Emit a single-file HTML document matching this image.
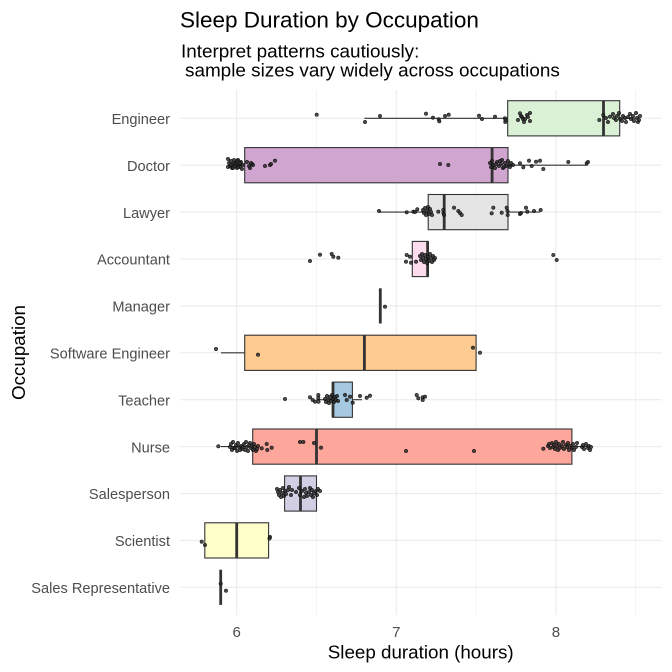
<!DOCTYPE html>
<html><head><meta charset="utf-8"><style>
html,body{margin:0;padding:0;background:#fff;}
svg{display:block;}
text{font-family:"Liberation Sans",Arial,sans-serif;}
</style></head><body>
<svg width="672" height="672" viewBox="0 0 672 672" xmlns="http://www.w3.org/2000/svg">
<rect width="672" height="672" fill="#fff"/>
<!-- grid -->
<g stroke="#ebebeb" stroke-width="0.6">
<line x1="316.5" y1="90" x2="316.5" y2="615"/>
<line x1="476.1" y1="90" x2="476.1" y2="615"/>
<line x1="635.7" y1="90" x2="635.7" y2="615"/>
</g>
<g stroke="#ebebeb" stroke-width="1.1">
<line x1="236.7" y1="90" x2="236.7" y2="615"/>
<line x1="396.3" y1="90" x2="396.3" y2="615"/>
<line x1="555.9" y1="90" x2="555.9" y2="615"/>
<line x1="180" y1="118.3" x2="661.5" y2="118.3"/>
<line x1="180" y1="165.2" x2="661.5" y2="165.2"/>
<line x1="180" y1="212.1" x2="661.5" y2="212.1"/>
<line x1="180" y1="259.0" x2="661.5" y2="259.0"/>
<line x1="180" y1="305.9" x2="661.5" y2="305.9"/>
<line x1="180" y1="352.8" x2="661.5" y2="352.8"/>
<line x1="180" y1="399.7" x2="661.5" y2="399.7"/>
<line x1="180" y1="446.6" x2="661.5" y2="446.6"/>
<line x1="180" y1="493.5" x2="661.5" y2="493.5"/>
<line x1="180" y1="540.4" x2="661.5" y2="540.4"/>
<line x1="180" y1="587.3" x2="661.5" y2="587.3"/>
</g>
<!-- whiskers -->
<g stroke="#333" stroke-width="1.1">
<line x1="364.4" y1="118.3" x2="507.7" y2="118.3"/>
<line x1="619.7" y1="118.3" x2="635.7" y2="118.3"/>
<line x1="236.7" y1="165.2" x2="244.7" y2="165.2"/>
<line x1="508" y1="165.2" x2="587.8" y2="165.2"/>
<line x1="379" y1="212.1" x2="428.2" y2="212.1"/>
<line x1="508" y1="212.1" x2="540" y2="212.1"/>
<line x1="221" y1="352.8" x2="244.7" y2="352.8"/>
<line x1="316.5" y1="399.7" x2="332.5" y2="399.7"/>
<line x1="352.4" y1="399.7" x2="362" y2="399.7"/>
<line x1="220.7" y1="446.6" x2="252.7" y2="446.6"/>
<line x1="571.9" y1="446.6" x2="587.8" y2="446.6"/>
</g>
<!-- boxes -->
<g stroke="#333" stroke-width="1.1">
<rect x="507.7" y="100.7" width="112" height="35.2" fill="#dbf1d6"/>
<rect x="244.7" y="147.6" width="263.3" height="35.2" fill="#d0a6d1"/>
<rect x="428.2" y="194.5" width="79.8" height="35.2" fill="#e4e4e4"/>
<rect x="412.3" y="241.4" width="15.9" height="35.2" fill="#fddced"/>
<rect x="244.7" y="335.2" width="231.4" height="35.2" fill="#fecb91"/>
<rect x="332.5" y="382.1" width="19.9" height="35.2" fill="#a6c8e0"/>
<rect x="252.7" y="429.0" width="319.2" height="35.2" fill="#fca69c"/>
<rect x="284.6" y="475.9" width="31.9" height="35.2" fill="#d2cfe5"/>
<rect x="204.8" y="522.8" width="63.8" height="35.2" fill="#ffffca"/>
</g>
<!-- medians -->
<g stroke="#333" stroke-width="2.8">
<line x1="603.5" y1="100.7" x2="603.5" y2="135.9"/>
<line x1="492.1" y1="147.6" x2="492.1" y2="182.8"/>
<line x1="444.2" y1="194.5" x2="444.2" y2="229.7"/>
<line x1="427.6" y1="241.4" x2="427.6" y2="276.6"/>
<line x1="380.3" y1="288.3" x2="380.3" y2="323.5"/>
<line x1="364.4" y1="335.2" x2="364.4" y2="370.4"/>
<line x1="333" y1="382.1" x2="333" y2="417.3"/>
<line x1="316.5" y1="429.0" x2="316.5" y2="464.2"/>
<line x1="300.5" y1="475.9" x2="300.5" y2="511.1"/>
<line x1="236.7" y1="522.8" x2="236.7" y2="558.0"/>
<line x1="220.7" y1="569.7" x2="220.7" y2="604.9"/>
</g>
<!-- points -->
<g fill="#2a2a2a" stroke="#000" stroke-width="0.5" fill-opacity="0.85" stroke-opacity="0.85">
<!-- Engineer -->
<circle cx="316.7" cy="114.7" r="1.8"/><circle cx="365" cy="122" r="1.8"/><circle cx="380" cy="116" r="1.8"/><circle cx="426" cy="113.7" r="1.8"/><circle cx="433" cy="117.7" r="1.8"/><circle cx="438.7" cy="119.3" r="1.8"/><circle cx="439.3" cy="121.3" r="1.8"/><circle cx="445" cy="116" r="1.8"/><circle cx="448.7" cy="114.7" r="1.8"/><circle cx="479" cy="115.7" r="1.8"/><circle cx="482" cy="119" r="1.8"/><circle cx="495" cy="116.7" r="1.8"/><circle cx="505" cy="118.3" r="1.8"/><circle cx="505.3" cy="122" r="1.8"/><circle cx="505.5" cy="120" r="1.8"/><circle cx="518" cy="120" r="1.8"/><circle cx="520" cy="113.3" r="1.8"/><circle cx="521" cy="116" r="1.8"/><circle cx="522" cy="117" r="1.8"/><circle cx="523" cy="119" r="1.8"/><circle cx="524" cy="122" r="1.8"/><circle cx="525" cy="119" r="1.8"/><circle cx="527" cy="115" r="1.8"/><circle cx="528" cy="117" r="1.8"/><circle cx="530" cy="113" r="1.8"/><circle cx="530" cy="121" r="1.8"/><circle cx="599.3" cy="120" r="1.8"/><circle cx="603.3" cy="115" r="1.8"/><circle cx="606" cy="118" r="1.8"/><circle cx="608" cy="122" r="1.8"/><circle cx="610" cy="116.7" r="1.8"/><circle cx="613" cy="114" r="1.8"/><circle cx="614" cy="118" r="1.8"/><circle cx="616" cy="120" r="1.8"/><circle cx="617" cy="116" r="1.8"/><circle cx="619" cy="113" r="1.8"/><circle cx="620" cy="119" r="1.8"/><circle cx="622" cy="121" r="1.8"/><circle cx="623" cy="116" r="1.8"/><circle cx="625" cy="118" r="1.8"/><circle cx="626" cy="122" r="1.8"/><circle cx="628" cy="117" r="1.8"/><circle cx="630" cy="114" r="1.8"/><circle cx="631" cy="119" r="1.8"/><circle cx="633" cy="116" r="1.8"/><circle cx="634" cy="121" r="1.8"/><circle cx="636" cy="113" r="1.8"/><circle cx="637" cy="118" r="1.8"/><circle cx="638" cy="122" r="1.8"/><circle cx="640" cy="116" r="1.8"/><circle cx="639" cy="120" r="1.8"/>
<!-- Doctor -->
<circle cx="228" cy="159" r="1.8"/><circle cx="229" cy="163" r="1.8"/><circle cx="230" cy="166" r="1.8"/><circle cx="231" cy="161" r="1.8"/><circle cx="232" cy="168" r="1.8"/><circle cx="233" cy="164" r="1.8"/><circle cx="234" cy="160" r="1.8"/><circle cx="235" cy="166" r="1.8"/><circle cx="236" cy="162" r="1.8"/><circle cx="237" cy="168" r="1.8"/><circle cx="236" cy="164" r="1.8"/><circle cx="238" cy="160" r="1.8"/><circle cx="239" cy="165" r="1.8"/><circle cx="240" cy="167" r="1.8"/><circle cx="241" cy="162" r="1.8"/><circle cx="242" cy="169" r="1.8"/><circle cx="243" cy="165" r="1.8"/><circle cx="231" cy="165" r="1.8"/><circle cx="233" cy="168" r="1.8"/><circle cx="235" cy="163" r="1.8"/><circle cx="237" cy="161" r="1.8"/><circle cx="238" cy="167" r="1.8"/><circle cx="240" cy="163" r="1.8"/><circle cx="228" cy="167" r="1.8"/><circle cx="247" cy="162" r="1.8"/><circle cx="249" cy="166" r="1.8"/><circle cx="250" cy="168" r="1.8"/><circle cx="252" cy="164" r="1.8"/><circle cx="253" cy="165" r="1.8"/><circle cx="251" cy="163" r="1.8"/><circle cx="265" cy="166" r="1.8"/><circle cx="270" cy="165" r="1.8"/><circle cx="271" cy="164" r="1.8"/><circle cx="275" cy="160.7" r="1.8"/><circle cx="440" cy="164" r="1.8"/><circle cx="448.3" cy="165" r="1.8"/><circle cx="490" cy="163" r="1.8"/><circle cx="491" cy="167" r="1.8"/><circle cx="492" cy="161" r="1.8"/><circle cx="493" cy="165" r="1.8"/><circle cx="495" cy="168" r="1.8"/><circle cx="497" cy="162" r="1.8"/><circle cx="499" cy="166" r="1.8"/><circle cx="501" cy="164" r="1.8"/><circle cx="502" cy="160" r="1.8"/><circle cx="503" cy="168" r="1.8"/><circle cx="505" cy="163" r="1.8"/><circle cx="506" cy="166" r="1.8"/><circle cx="508" cy="161" r="1.8"/><circle cx="509" cy="165" r="1.8"/><circle cx="510" cy="167" r="1.8"/><circle cx="511" cy="163" r="1.8"/><circle cx="513" cy="165" r="1.8"/><circle cx="496" cy="164" r="1.8"/><circle cx="500" cy="161" r="1.8"/><circle cx="504" cy="167" r="1.8"/><circle cx="520" cy="163.3" r="1.8"/><circle cx="523.3" cy="167.3" r="1.8"/><circle cx="529" cy="160.7" r="1.8"/><circle cx="531.7" cy="166" r="1.8"/><circle cx="536" cy="161.7" r="1.8"/><circle cx="540" cy="160.7" r="1.8"/><circle cx="543.3" cy="169" r="1.8"/><circle cx="568.3" cy="162" r="1.8"/><circle cx="586.7" cy="163.3" r="1.8"/><circle cx="588" cy="162" r="1.8"/>
<!-- Lawyer -->
<circle cx="379" cy="211" r="1.8"/><circle cx="406.7" cy="212.3" r="1.8"/><circle cx="413.3" cy="211.7" r="1.8"/><circle cx="415" cy="212" r="1.8"/><circle cx="417.3" cy="209.3" r="1.8"/><circle cx="423" cy="210" r="1.8"/><circle cx="424" cy="213" r="1.8"/><circle cx="425" cy="208" r="1.8"/><circle cx="426" cy="215" r="1.8"/><circle cx="427" cy="211" r="1.8"/><circle cx="428" cy="207" r="1.8"/><circle cx="429" cy="214" r="1.8"/><circle cx="430" cy="209" r="1.8"/><circle cx="431" cy="212" r="1.8"/><circle cx="432" cy="215" r="1.8"/><circle cx="438.3" cy="211.7" r="1.8"/><circle cx="443.3" cy="210" r="1.8"/><circle cx="443.5" cy="213" r="1.8"/><circle cx="444" cy="215" r="1.8"/><circle cx="454" cy="207.7" r="1.8"/><circle cx="458.3" cy="211" r="1.8"/><circle cx="460" cy="213" r="1.8"/><circle cx="461.7" cy="215" r="1.8"/><circle cx="491.7" cy="213.3" r="1.8"/><circle cx="493.3" cy="207.7" r="1.8"/><circle cx="501.7" cy="212.7" r="1.8"/><circle cx="506.7" cy="207.7" r="1.8"/><circle cx="507.7" cy="215" r="1.8"/><circle cx="507.5" cy="211" r="1.8"/><circle cx="520" cy="214" r="1.8"/><circle cx="521" cy="213" r="1.8"/><circle cx="526" cy="207.7" r="1.8"/><circle cx="527.3" cy="211.7" r="1.8"/><circle cx="534" cy="211" r="1.8"/><circle cx="540.7" cy="210" r="1.8"/>
<!-- Accountant -->
<circle cx="310" cy="261" r="1.8"/><circle cx="320" cy="254.7" r="1.8"/><circle cx="331.7" cy="254" r="1.8"/><circle cx="333.3" cy="256.7" r="1.8"/><circle cx="338.3" cy="257.7" r="1.8"/><circle cx="406.7" cy="255" r="1.8"/><circle cx="410" cy="256.7" r="1.8"/><circle cx="411" cy="262.7" r="1.8"/><circle cx="406" cy="261.7" r="1.8"/><circle cx="416" cy="261.7" r="1.8"/><circle cx="420" cy="256" r="1.8"/><circle cx="421" cy="260" r="1.8"/><circle cx="422" cy="254" r="1.8"/><circle cx="423" cy="258" r="1.8"/><circle cx="424" cy="262" r="1.8"/><circle cx="425" cy="255" r="1.8"/><circle cx="426" cy="259" r="1.8"/><circle cx="427" cy="263" r="1.8"/><circle cx="428" cy="257" r="1.8"/><circle cx="429" cy="261" r="1.8"/><circle cx="430" cy="254" r="1.8"/><circle cx="431" cy="258" r="1.8"/><circle cx="432" cy="262" r="1.8"/><circle cx="433" cy="256" r="1.8"/><circle cx="434" cy="260" r="1.8"/><circle cx="435" cy="258" r="1.8"/><circle cx="553.3" cy="255" r="1.8"/><circle cx="556.7" cy="260" r="1.8"/>
<!-- Manager -->
<circle cx="385" cy="306.7" r="1.8"/>
<!-- Software Engineer -->
<circle cx="216" cy="349" r="1.8"/><circle cx="258" cy="354.7" r="1.8"/><circle cx="473" cy="347.7" r="1.8"/><circle cx="480" cy="352.7" r="1.8"/>
<!-- Teacher -->
<circle cx="285" cy="399" r="1.8"/><circle cx="310" cy="397.3" r="1.8"/><circle cx="312.7" cy="400" r="1.8"/><circle cx="315" cy="401.7" r="1.8"/><circle cx="318.3" cy="395" r="1.8"/><circle cx="318.3" cy="398" r="1.8"/><circle cx="318.5" cy="401.7" r="1.8"/><circle cx="325" cy="399" r="1.8"/><circle cx="326" cy="402" r="1.8"/><circle cx="327" cy="396" r="1.8"/><circle cx="328" cy="400" r="1.8"/><circle cx="329" cy="403" r="1.8"/><circle cx="330" cy="397" r="1.8"/><circle cx="331" cy="401" r="1.8"/><circle cx="332" cy="395" r="1.8"/><circle cx="333" cy="399" r="1.8"/><circle cx="334" cy="402" r="1.8"/><circle cx="335" cy="397" r="1.8"/><circle cx="336" cy="400" r="1.8"/><circle cx="337" cy="396" r="1.8"/><circle cx="338" cy="401" r="1.8"/><circle cx="345" cy="395" r="1.8"/><circle cx="346.7" cy="400" r="1.8"/><circle cx="350" cy="396.7" r="1.8"/><circle cx="352.7" cy="402.7" r="1.8"/><circle cx="360" cy="396" r="1.8"/><circle cx="366.7" cy="397.7" r="1.8"/><circle cx="370" cy="395.7" r="1.8"/><circle cx="416.7" cy="395" r="1.8"/><circle cx="418.3" cy="398.3" r="1.8"/><circle cx="422.7" cy="397.3" r="1.8"/><circle cx="425" cy="396.7" r="1.8"/><circle cx="422.7" cy="400" r="1.8"/>
<!-- Nurse -->
<circle cx="218.3" cy="446.3" r="1.8"/><circle cx="230" cy="447" r="1.8"/><circle cx="231" cy="444" r="1.8"/><circle cx="232" cy="450" r="1.8"/><circle cx="233" cy="442" r="1.8"/><circle cx="234" cy="448" r="1.8"/><circle cx="236" cy="445" r="1.8"/><circle cx="237" cy="451" r="1.8"/><circle cx="238" cy="443" r="1.8"/><circle cx="239" cy="447" r="1.8"/><circle cx="241" cy="446" r="1.8"/><circle cx="242" cy="449" r="1.8"/><circle cx="244" cy="444" r="1.8"/><circle cx="245" cy="450" r="1.8"/><circle cx="246" cy="442" r="1.8"/><circle cx="247" cy="447" r="1.8"/><circle cx="248" cy="451" r="1.8"/><circle cx="249" cy="445" r="1.8"/><circle cx="250" cy="443" r="1.8"/><circle cx="251" cy="448" r="1.8"/><circle cx="252" cy="446" r="1.8"/><circle cx="253" cy="450" r="1.8"/><circle cx="254" cy="444" r="1.8"/><circle cx="255" cy="447" r="1.8"/><circle cx="256" cy="451" r="1.8"/><circle cx="257" cy="449" r="1.8"/><circle cx="258" cy="446" r="1.8"/><circle cx="240" cy="450" r="1.8"/><circle cx="235" cy="448" r="1.8"/><circle cx="243" cy="447" r="1.8"/><circle cx="261.7" cy="448.3" r="1.8"/><circle cx="266.7" cy="444" r="1.8"/><circle cx="267.3" cy="450" r="1.8"/><circle cx="271.7" cy="447.7" r="1.8"/><circle cx="300" cy="442" r="1.8"/><circle cx="303.3" cy="442" r="1.8"/><circle cx="314" cy="443" r="1.8"/><circle cx="321" cy="447.7" r="1.8"/><circle cx="406" cy="451" r="1.8"/><circle cx="474" cy="451" r="1.8"/><circle cx="543.3" cy="448.7" r="1.8"/><circle cx="548" cy="446" r="1.8"/><circle cx="549" cy="444" r="1.8"/><circle cx="550" cy="448" r="1.8"/><circle cx="552" cy="443" r="1.8"/><circle cx="553" cy="447" r="1.8"/><circle cx="554" cy="445" r="1.8"/><circle cx="555" cy="449" r="1.8"/><circle cx="556" cy="442" r="1.8"/><circle cx="557" cy="446" r="1.8"/><circle cx="558" cy="450" r="1.8"/><circle cx="559" cy="444" r="1.8"/><circle cx="560" cy="448" r="1.8"/><circle cx="562" cy="446" r="1.8"/><circle cx="563" cy="442" r="1.8"/><circle cx="564" cy="449" r="1.8"/><circle cx="566" cy="445" r="1.8"/><circle cx="567" cy="447" r="1.8"/><circle cx="568" cy="443" r="1.8"/><circle cx="569" cy="450" r="1.8"/><circle cx="570" cy="446" r="1.8"/><circle cx="572" cy="448" r="1.8"/><circle cx="573" cy="444" r="1.8"/><circle cx="574" cy="450" r="1.8"/><circle cx="576" cy="447" r="1.8"/><circle cx="577" cy="443" r="1.8"/><circle cx="582" cy="447" r="1.8"/><circle cx="583" cy="445" r="1.8"/><circle cx="584" cy="449" r="1.8"/><circle cx="586" cy="444" r="1.8"/><circle cx="588" cy="448" r="1.8"/><circle cx="589" cy="446" r="1.8"/><circle cx="590" cy="450" r="1.8"/><circle cx="591" cy="447" r="1.8"/>
<!-- Salesperson -->
<circle cx="277" cy="489" r="1.8"/><circle cx="278" cy="492" r="1.8"/><circle cx="279" cy="495" r="1.8"/><circle cx="280" cy="490" r="1.8"/><circle cx="281" cy="497" r="1.8"/><circle cx="282" cy="493" r="1.8"/><circle cx="283" cy="488" r="1.8"/><circle cx="284" cy="496" r="1.8"/><circle cx="285" cy="491" r="1.8"/><circle cx="286" cy="494" r="1.8"/><circle cx="288" cy="490" r="1.8"/><circle cx="289" cy="487" r="1.8"/><circle cx="291" cy="495" r="1.8"/><circle cx="292" cy="490" r="1.8"/><circle cx="296" cy="492" r="1.8"/><circle cx="299" cy="488" r="1.8"/><circle cx="300" cy="495" r="1.8"/><circle cx="302" cy="491" r="1.8"/><circle cx="304" cy="497" r="1.8"/><circle cx="305" cy="489" r="1.8"/><circle cx="306" cy="493" r="1.8"/><circle cx="307" cy="496" r="1.8"/><circle cx="309" cy="492" r="1.8"/><circle cx="310" cy="488" r="1.8"/><circle cx="311" cy="495" r="1.8"/><circle cx="312" cy="490" r="1.8"/><circle cx="313" cy="497" r="1.8"/><circle cx="314" cy="493" r="1.8"/><circle cx="316" cy="491" r="1.8"/><circle cx="317" cy="495" r="1.8"/><circle cx="318" cy="489" r="1.8"/><circle cx="320" cy="491" r="1.8"/>
<!-- Scientist -->
<circle cx="201.7" cy="541.7" r="1.8"/><circle cx="205" cy="545" r="1.8"/><circle cx="270" cy="537" r="1.8"/><circle cx="269.5" cy="538.5" r="1.8"/>
<!-- Sales Representative -->
<circle cx="220.7" cy="583.7" r="1.8"/><circle cx="226" cy="590.7" r="1.8"/>
</g>
<!-- y axis labels -->
<g font-size="14.6" fill="#4d4d4d" text-anchor="end">
<text x="170" y="124">Engineer</text>
<text x="170" y="170.9">Doctor</text>
<text x="170" y="217.8">Lawyer</text>
<text x="170" y="264.7">Accountant</text>
<text x="170" y="311.6">Manager</text>
<text x="170" y="358.5">Software Engineer</text>
<text x="170" y="405.4">Teacher</text>
<text x="170" y="452.3">Nurse</text>
<text x="170" y="499.2">Salesperson</text>
<text x="170" y="546.1">Scientist</text>
<text x="170" y="593">Sales Representative</text>
</g>
<!-- x axis labels -->
<g font-size="15" fill="#4d4d4d" text-anchor="middle">
<text x="236.7" y="637">6</text>
<text x="396.3" y="637">7</text>
<text x="555.9" y="637">8</text>
</g>
<text x="420.7" y="658.5" font-size="18.8" fill="#000" text-anchor="middle">Sleep duration (hours)</text>
<text transform="translate(25,352.5) rotate(-90)" font-size="18.8" fill="#000" text-anchor="middle">Occupation</text>
<!-- titles -->
<text x="180" y="27.5" font-size="22.5" fill="#000">Sleep Duration by Occupation</text>
<text x="181" y="57.3" font-size="18.9" fill="#000">Interpret patterns cautiously:</text>
<text x="185" y="76.5" font-size="18.9" fill="#000">sample sizes vary widely across occupations</text>
</svg>
</body></html>
